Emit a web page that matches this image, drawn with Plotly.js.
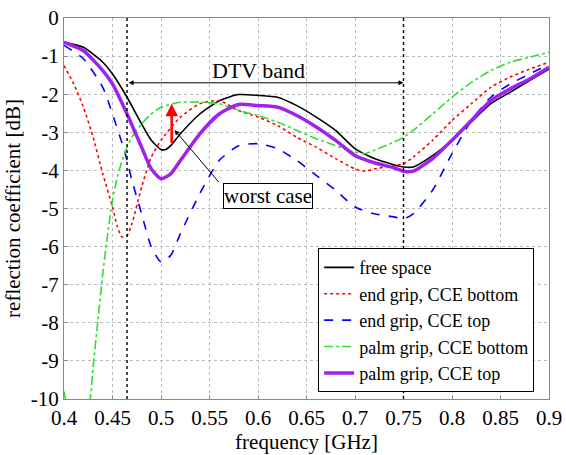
<!DOCTYPE html>
<html>
<head>
<meta charset="utf-8">
<script src="https://cdn.plot.ly/plotly-3.0.1.min.js"></script>
<style>html,body{margin:0;padding:0;background:#fff;}#chart{width:566px;height:455px;}</style>
</head>
<body>
<div id="chart"></div>
<script>
// ---- data ----
const freeX = [0.4,0.42,0.44,0.45,0.465,0.48,0.49,0.5,0.505,0.51,0.52,0.54,0.56,0.58,0.6,0.62,0.64,0.66,0.68,0.7,0.72,0.74,0.75,0.76,0.78,0.8,0.82,0.84,0.86,0.88,0.9];
const freeY = [-0.64,-0.77,-1.16,-1.47,-2.08,-2.78,-3.21,-3.45,-3.45,-3.35,-3.04,-2.52,-2.17,-2.01,-2.03,-2.08,-2.30,-2.60,-2.95,-3.43,-3.69,-3.85,-3.91,-3.91,-3.61,-3.21,-2.73,-2.25,-1.95,-1.64,-1.34];

const endBotX = [0.4,0.41,0.42,0.43,0.44,0.45,0.455,0.46,0.465,0.47,0.48,0.49,0.5,0.52,0.54,0.56,0.58,0.6,0.62,0.64,0.66,0.68,0.7,0.71,0.72,0.74,0.75,0.76,0.78,0.8,0.82,0.84,0.86,0.88,0.9];
const endBotY = [-1.25,-1.73,-2.34,-3.13,-4.09,-4.96,-5.48,-5.75,-5.71,-5.40,-4.44,-3.65,-3.21,-2.60,-2.25,-2.17,-2.43,-2.60,-2.82,-3.13,-3.39,-3.69,-3.96,-4.02,-3.96,-3.87,-3.83,-3.65,-3.21,-2.69,-2.25,-1.82,-1.55,-1.34,-1.16];

const endTopX = [0.4,0.42,0.44,0.45,0.46,0.465,0.47,0.48,0.49,0.5,0.51,0.52,0.54,0.56,0.58,0.6,0.62,0.64,0.66,0.68,0.7,0.72,0.74,0.75,0.76,0.78,0.8,0.82,0.84,0.86,0.88,0.9];
const endTopY = [-0.72,-1.07,-1.82,-2.52,-3.30,-3.74,-4.26,-5.14,-6.01,-6.40,-6.23,-5.66,-4.61,-3.74,-3.35,-3.30,-3.43,-3.74,-4.13,-4.52,-4.96,-5.14,-5.22,-5.27,-5.14,-4.52,-3.56,-2.69,-2.08,-1.73,-1.47,-1.21];

const palmBotX = [0.4,0.41,0.42,0.427,0.43,0.435,0.44,0.445,0.45,0.455,0.46,0.465,0.47,0.48,0.49,0.5,0.52,0.54,0.56,0.58,0.6,0.62,0.64,0.66,0.68,0.7,0.71,0.72,0.74,0.75,0.76,0.78,0.8,0.82,0.84,0.86,0.88,0.9];
const palmBotY = [-9.8,-10.8,-10.6,-10.0,-9.15,-7.93,-6.71,-5.66,-4.79,-4.17,-3.74,-3.39,-3.13,-2.78,-2.52,-2.34,-2.21,-2.21,-2.25,-2.43,-2.56,-2.73,-2.95,-3.17,-3.35,-3.52,-3.56,-3.47,-3.26,-3.13,-2.95,-2.52,-2.08,-1.69,-1.38,-1.16,-1.03,-0.90];

const palmTopX = [0.4,0.42,0.44,0.45,0.465,0.48,0.49,0.5,0.51,0.52,0.54,0.56,0.58,0.6,0.62,0.64,0.66,0.68,0.7,0.72,0.74,0.75,0.76,0.78,0.8,0.82,0.84,0.86,0.88,0.9];
const palmTopY = [-0.64,-0.86,-1.38,-1.73,-2.52,-3.39,-3.96,-4.22,-4.09,-3.74,-3.04,-2.52,-2.27,-2.30,-2.34,-2.56,-2.86,-3.21,-3.61,-3.80,-3.93,-4.02,-4.02,-3.69,-3.21,-2.69,-2.17,-1.86,-1.60,-1.29];

const xTicks = [0.4,0.45,0.5,0.55,0.6,0.65,0.7,0.75,0.8,0.85,0.9];
const xTickText = ['0.4','0.45','0.5','0.55','0.6','0.65','0.7','0.75','0.8','0.85','0.9'];
const yTicks = [0,-1,-2,-3,-4,-5,-6,-7,-8,-9,-10];
const yTickText = ['0','-1','-2','-3','-4','-5','-6','-7','-8','-9','-10'];

const bandEdges = [0.465, 0.75];
const worstX = 0.511, worstFrom = -3.32, worstTo = -2.25;

const FONT = 'Liberation Serif';

const traces = [
  {x: freeX, y: freeY, name: 'free space', mode: 'lines', line: {color: '#000000', width: 1.6, shape: 'spline', smoothing: 0.6}},
  {x: endBotX, y: endBotY, name: 'end grip, CCE bottom', mode: 'lines', line: {color: '#ff0000', width: 1.6, dash: 'dot', shape: 'spline', smoothing: 0.6}},
  {x: endTopX, y: endTopY, name: 'end grip, CCE top', mode: 'lines', line: {color: '#0000ff', width: 1.6, dash: 'dash', shape: 'spline', smoothing: 0.6}},
  {x: palmBotX, y: palmBotY, name: 'palm grip, CCE bottom', mode: 'lines', line: {color: '#33dd33', width: 1.6, dash: 'dashdot', shape: 'spline', smoothing: 0.6}},
  {x: palmTopX, y: palmTopY, name: 'palm grip, CCE top', mode: 'lines', line: {color: '#a020f0', width: 3.5, shape: 'spline', smoothing: 0.6}}
];

const shapes = bandEdges.map(b => ({type: 'line', xref: 'x', yref: 'y', x0: b, x1: b, y0: -10, y1: 0, line: {color: '#000', width: 1.4, dash: 'dot'}, layer: 'above'}));

const annotations = [
  {x: bandEdges[1], y: -1.7, ax: bandEdges[0], ay: -1.7, xref: 'x', yref: 'y', axref: 'x', ayref: 'y', text: '', showarrow: true, arrowhead: 2, startarrowhead: 2, arrowside: 'end+start', arrowsize: 1, arrowwidth: 1, arrowcolor: '#000'},
  {x: 0.6, y: -1.38, xref: 'x', yref: 'y', text: 'DTV band', showarrow: false, font: {family: FONT, size: 22, color: '#000'}},
  {x: worstX, y: worstTo, ax: worstX, ay: worstFrom, xref: 'x', yref: 'y', axref: 'x', ayref: 'y', text: '', showarrow: true, arrowhead: 2, arrowsize: 1, arrowwidth: 2.5, arrowcolor: '#ff0000'},
  {x: 0.514, y: -2.94, ax: 0.561, ay: -4.35, xref: 'x', yref: 'y', axref: 'x', ayref: 'y', text: '', showarrow: true, arrowhead: 2, arrowsize: 1, arrowwidth: 1, arrowcolor: '#000'},
  {x: 0.61, y: -4.68, xref: 'x', yref: 'y', text: 'worst case', showarrow: false, font: {family: FONT, size: 21, color: '#000'}, bgcolor: '#fff', bordercolor: '#000', borderwidth: 1, borderpad: 0}
];

const layout = {
  width: 566, height: 455,
  margin: {l: 64, r: 17, t: 18, b: 56},
  paper_bgcolor: '#fff', plot_bgcolor: '#fff',
  font: {family: FONT, size: 20, color: '#000'},
  showlegend: true,
  legend: {x: 0.524, y: 0.018, xanchor: 'left', yanchor: 'bottom', bgcolor: '#fff', bordercolor: '#000', borderwidth: 1, font: {family: FONT, size: 18, color: '#000'}, tracegroupgap: 0, itemwidth: 30},
  xaxis: {range: [0.4, 0.9], tickvals: xTicks, ticktext: xTickText, showgrid: true, gridcolor: '#bbbbbb', griddash: 'dot', gridwidth: 1, zeroline: false, showline: true, linecolor: '#888', mirror: true, ticks: 'inside', ticklen: 4, tickcolor: '#888', tickfont: {family: FONT, size: 21, color: '#000'}, title: {text: 'frequency [GHz]', font: {family: FONT, size: 21, color: '#000'}, standoff: 2}},
  yaxis: {range: [-10, 0], tickvals: yTicks, ticktext: yTickText, showgrid: true, gridcolor: '#bbbbbb', griddash: 'dot', gridwidth: 1, zeroline: false, showline: true, linecolor: '#888', mirror: true, ticks: 'inside', ticklen: 4, tickcolor: '#888', tickfont: {family: FONT, size: 21, color: '#000'}, title: {text: 'reflection coefficient [dB]', font: {family: FONT, size: 21, color: '#000'}, standoff: 4}},
  shapes: shapes,
  annotations: annotations
};

Plotly.newPlot('chart', traces, layout, {displayModeBar: false, staticPlot: true});
</script>
</body>
</html>
